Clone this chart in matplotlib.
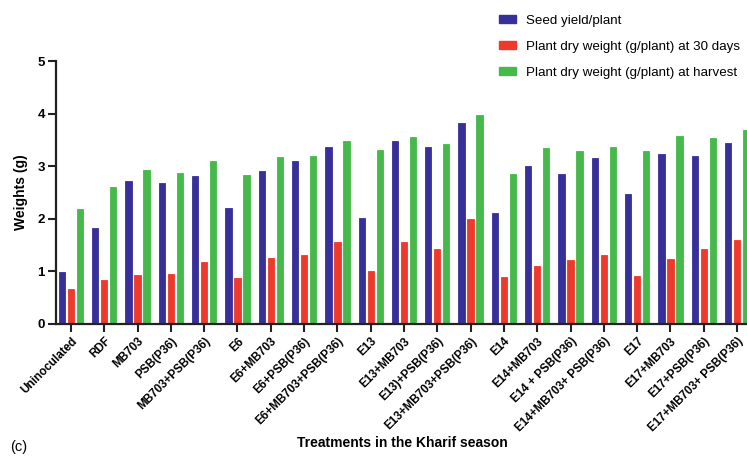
import numpy as np
import matplotlib
matplotlib.use('Agg')
from matplotlib import pyplot as plt
from matplotlib.patches import Patch

plt.rcParams['font.family'] = ['Liberation Sans', 'DejaVu Sans']

treatments = ['Uninoculated', 'RDF', 'MB703', 'PSB(P36)', 'MB703+PSB(P36)',
              'E6', 'E6+MB703', 'E6+PSB(P36)', 'E6+MB703+PSB(P36)',
              'E13', 'E13+MB703', 'E13)+PSB(P36)', 'E13+MB703+PSB(P36)',
              'E14', 'E14+MB703', 'E14 + PSB(P36)', 'E14+MB703+ PSB(P36)',
              'E17', 'E17+MB703', 'E17+PSB(P36)', 'E17+MB703+ PSB(P36)']
seed_yield = [0.99, 1.82, 2.72, 2.68, 2.82, 2.21, 2.91, 3.10, 3.37, 2.02, 3.48,
              3.37, 3.82, 2.11, 3.00, 2.86, 3.16, 2.47, 3.23, 3.19, 3.44]
dry_30 = [0.66, 0.84, 0.93, 0.95, 1.18, 0.88, 1.26, 1.31, 1.55, 1.01, 1.55,
          1.43, 1.99, 0.89, 1.11, 1.22, 1.32, 0.92, 1.24, 1.42, 1.59]
dry_harvest = [2.18, 2.60, 2.92, 2.88, 3.09, 2.84, 3.18, 3.19, 3.47, 3.31, 3.56,
               3.42, 3.97, 2.86, 3.34, 3.29, 3.37, 3.29, 3.58, 3.54, 3.68]

labels = ['Seed yield/plant', 'Plant dry weight (g/plant) at 30 days',
          'Plant dry weight (g/plant) at harvest']
colors = ['#38309a', '#ee3a2c', '#46b94b']

fig = plt.figure(figsize=(7.47, 4.58), dpi=100)
ax = fig.add_axes([56 / 747, 1 - 324 / 458, 1 - 56 / 747, (324 - 61) / 458])

x = np.arange(len(treatments))
w = 0.19
off = 0.27
for i, (vals, c) in enumerate(zip([seed_yield, dry_30, dry_harvest], colors)):
    ax.bar(x + (i - 1) * off, vals, width=w, color=c, edgecolor=c, linewidth=0.6,
           zorder=2)

ax.set_xlim(-0.45, 20.3)
ax.set_ylim(0, 5)
ax.set_yticks([0, 1, 2, 3, 4, 5])
ax.set_xticks(x)
ax.set_xticklabels(treatments, rotation=45, ha='right', rotation_mode='anchor',
                   fontsize=8.4, fontweight='bold')
for t in ax.get_yticklabels():
    t.set_fontweight('bold')
    t.set_fontsize(9.5)
ax.tick_params(axis='both', length=6, width=1.5, color='#222222')
ax.tick_params(axis='y', pad=2)
ax.tick_params(axis='x', pad=2)
for s in ['top', 'right']:
    ax.spines[s].set_visible(False)
for s in ['left', 'bottom']:
    ax.spines[s].set_linewidth(1.6)
    ax.spines[s].set_color('#222222')

ax.set_ylabel('Weights (g)', fontsize=10, fontweight='bold')
ax.yaxis.set_label_coords(-0.04, 0.5)
fig.text(402 / 747, 1 - 443 / 458, 'Treatments in the Kharif season',
         fontsize=10, fontweight='bold', ha='center', va='center')
fig.text(10 / 747, 1 - 447 / 458, '(c)', fontsize=10.5, ha='left', va='center')

handles = [Patch(facecolor=c, edgecolor=c) for c in colors]
fig.legend(handles, labels, loc='upper left', bbox_to_anchor=(487 / 747, 1 - 3 / 458),
           frameon=False, fontsize=9.6, handlelength=1.3, handleheight=0.55,
           labelspacing=1.05, handletextpad=0.75)

fig.savefig('out.png', dpi=100)
